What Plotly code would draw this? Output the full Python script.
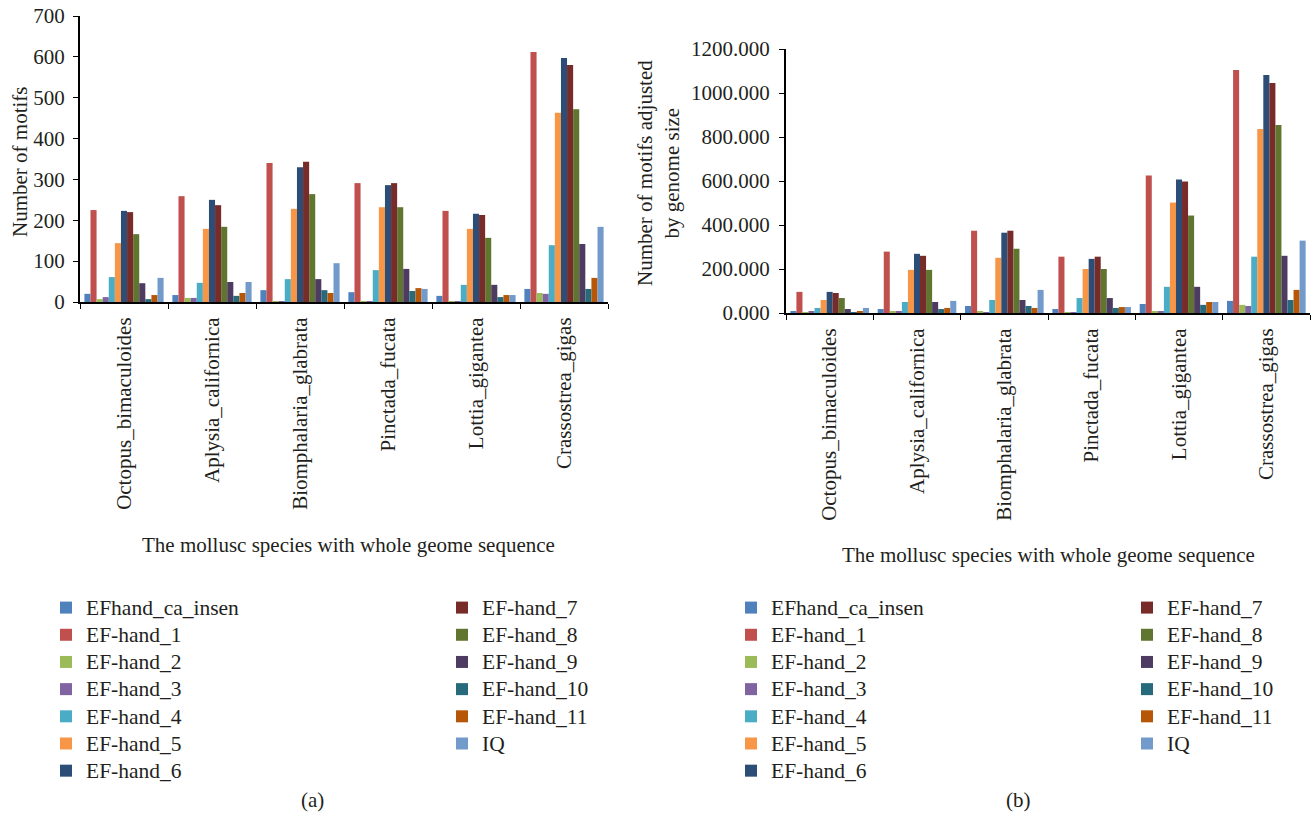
import plotly.graph_objects as go

species = ["Octopus_bimaculoides", "Aplysia_californica", "Biomphalaria_glabrata",
           "Pinctada_fucata", "Lottia_gigantea", "Crassostrea_gigas"]

motifs = ["EFhand_ca_insen", "EF-hand_1", "EF-hand_2", "EF-hand_3", "EF-hand_4",
          "EF-hand_5", "EF-hand_6", "EF-hand_7", "EF-hand_8", "EF-hand_9",
          "EF-hand_10", "EF-hand_11", "IQ"]

colors = ["#4F81BD", "#C0504D", "#9BBB59", "#8064A2", "#4BACC6", "#F79646",
          "#2C4D75", "#772C2A", "#5F7530", "#4D3B62", "#276A7C", "#B65708", "#729ACA"]

# (a) Number of motifs, per motif, over species
counts = {
    "EFhand_ca_insen": [20, 17, 29, 24, 15, 32],
    "EF-hand_1":       [225, 259, 340, 291, 223, 612],
    "EF-hand_2":       [7, 10, 2, 1, 1, 22],
    "EF-hand_3":       [12, 10, 2, 1, 2, 20],
    "EF-hand_4":       [61, 47, 56, 78, 42, 139],
    "EF-hand_5":       [144, 179, 228, 232, 179, 463],
    "EF-hand_6":       [223, 250, 330, 286, 216, 597],
    "EF-hand_7":       [220, 237, 343, 291, 213, 580],
    "EF-hand_8":       [166, 184, 264, 232, 157, 472],
    "EF-hand_9":       [46, 49, 56, 81, 42, 142],
    "EF-hand_10":      [7, 15, 29, 27, 12, 32],
    "EF-hand_11":      [17, 22, 22, 34, 17, 59],
    "IQ":              [59, 49, 95, 32, 17, 184],
}

# (b) Number of motifs adjusted by genome size
adjusted = {
    "EFhand_ca_insen": [9, 18, 32, 18, 41, 55],
    "EF-hand_1":       [96, 279, 374, 256, 625, 1105],
    "EF-hand_2":       [1, 9, 5, 2, 5, 37],
    "EF-hand_3":       [5, 9, 2, 2, 5, 32],
    "EF-hand_4":       [23, 50, 59, 68, 119, 256],
    "EF-hand_5":       [59, 196, 251, 200, 502, 836],
    "EF-hand_6":       [96, 269, 365, 246, 607, 1082],
    "EF-hand_7":       [91, 260, 374, 256, 598, 1046],
    "EF-hand_8":       [68, 196, 292, 200, 443, 854],
    "EF-hand_9":       [18, 50, 59, 68, 119, 260],
    "EF-hand_10":      [1, 18, 32, 23, 37, 59],
    "EF-hand_11":      [5, 23, 23, 27, 50, 105],
    "IQ":              [23, 55, 105, 27, 50, 329],
}

y_ticks_a = [0, 100, 200, 300, 400, 500, 600, 700]
y_ticks_b = [0, 200, 400, 600, 800, 1000, 1200]
y_ticktext_b = [f"{v:.3f}" for v in y_ticks_b]

FONT = "Liberation Serif"
TXT = "#231f20"
W, H = 1316, 820

fig = go.Figure()

for i, m in enumerate(motifs):
    leg_a = "legend" if i < 7 else "legend2"
    leg_b = "legend3" if i < 7 else "legend4"
    label = f"<span style='font-size:21.5px'>{m}</span>"
    fig.add_trace(go.Bar(x=species, y=counts[m], name=label, marker_color=colors[i],
                         xaxis="x", yaxis="y", legend=leg_a, marker_line_width=0))
    fig.add_trace(go.Bar(x=species, y=adjusted[m], name=label, marker_color=colors[i],
                         xaxis="x2", yaxis="y2", legend=leg_b, marker_line_width=0))

def px_x(p):
    return p / W

def px_y(p):
    return 1 - p / H

axis_common = dict(showline=True, linecolor="black", linewidth=2, ticks="outside",
                   ticklen=5, tickcolor="black", showgrid=False, zeroline=False,
                   automargin=False,
                   tickfont=dict(family=FONT, size=21, color=TXT))

leg_font = dict(family=FONT, size=18.6, color=TXT)
leg_common = dict(font=leg_font, xanchor="left", yanchor="top", tracegroupgap=0,
                  bgcolor="rgba(0,0,0,0)", itemwidth=30, traceorder="normal")

fig.update_layout(
    width=W, height=H, margin=dict(l=0, r=0, t=0, b=0, autoexpand=False),
    plot_bgcolor="white", paper_bgcolor="white",
    barmode="group", bargap=0.1, bargroupgap=0,
    font=dict(family=FONT, color=TXT),
    xaxis=dict(domain=[px_x(80), px_x(608)], anchor="y", type="category",
               tickson="boundaries", tickangle=-90, ticklabelstandoff=5, **axis_common),
    yaxis=dict(domain=[px_y(302), px_y(16)], anchor="x", range=[0, 700],
               tickvals=y_ticks_a, ticklabelstandoff=4, **axis_common),
    xaxis2=dict(domain=[px_x(786), px_x(1310)], anchor="y2", type="category",
                tickson="boundaries", tickangle=-90, ticklabelstandoff=5, **axis_common),
    yaxis2=dict(domain=[px_y(313), px_y(49)], anchor="x2", range=[0, 1200],
                tickvals=y_ticks_b, ticktext=y_ticktext_b, ticklabelstandoff=5,
                **axis_common),
    legend=dict(x=px_x(46), y=px_y(589), **leg_common),
    legend2=dict(x=px_x(442), y=px_y(589), **leg_common),
    legend3=dict(x=px_x(731), y=px_y(589), **leg_common),
    legend4=dict(x=px_x(1127), y=px_y(589), **leg_common),
    showlegend=True,
)

ann_font = dict(family=FONT, size=21, color=TXT)
annotations = [
    dict(text="Number of motifs", x=px_x(20), y=px_y(162), textangle=-90),
    dict(text="Number of motifs adjusted<br>by genome size", x=px_x(659), y=px_y(173),
         textangle=-90),
    dict(text="The mollusc species with whole geome sequence", x=px_x(349), y=px_y(545)),
    dict(text="The mollusc species with whole geome sequence", x=px_x(1048), y=px_y(555)),
    dict(text="(a)", x=px_x(312), y=px_y(800)),
    dict(text="(b)", x=px_x(1018), y=px_y(800)),
]
for a in annotations:
    fig.add_annotation(xref="paper", yref="paper", showarrow=False,
                       xanchor="center", yanchor="middle", font=ann_font, **a)

fig.write_html("out.html", config={"displayModeBar": False},
               post_script="document.body.style.margin='0';")
